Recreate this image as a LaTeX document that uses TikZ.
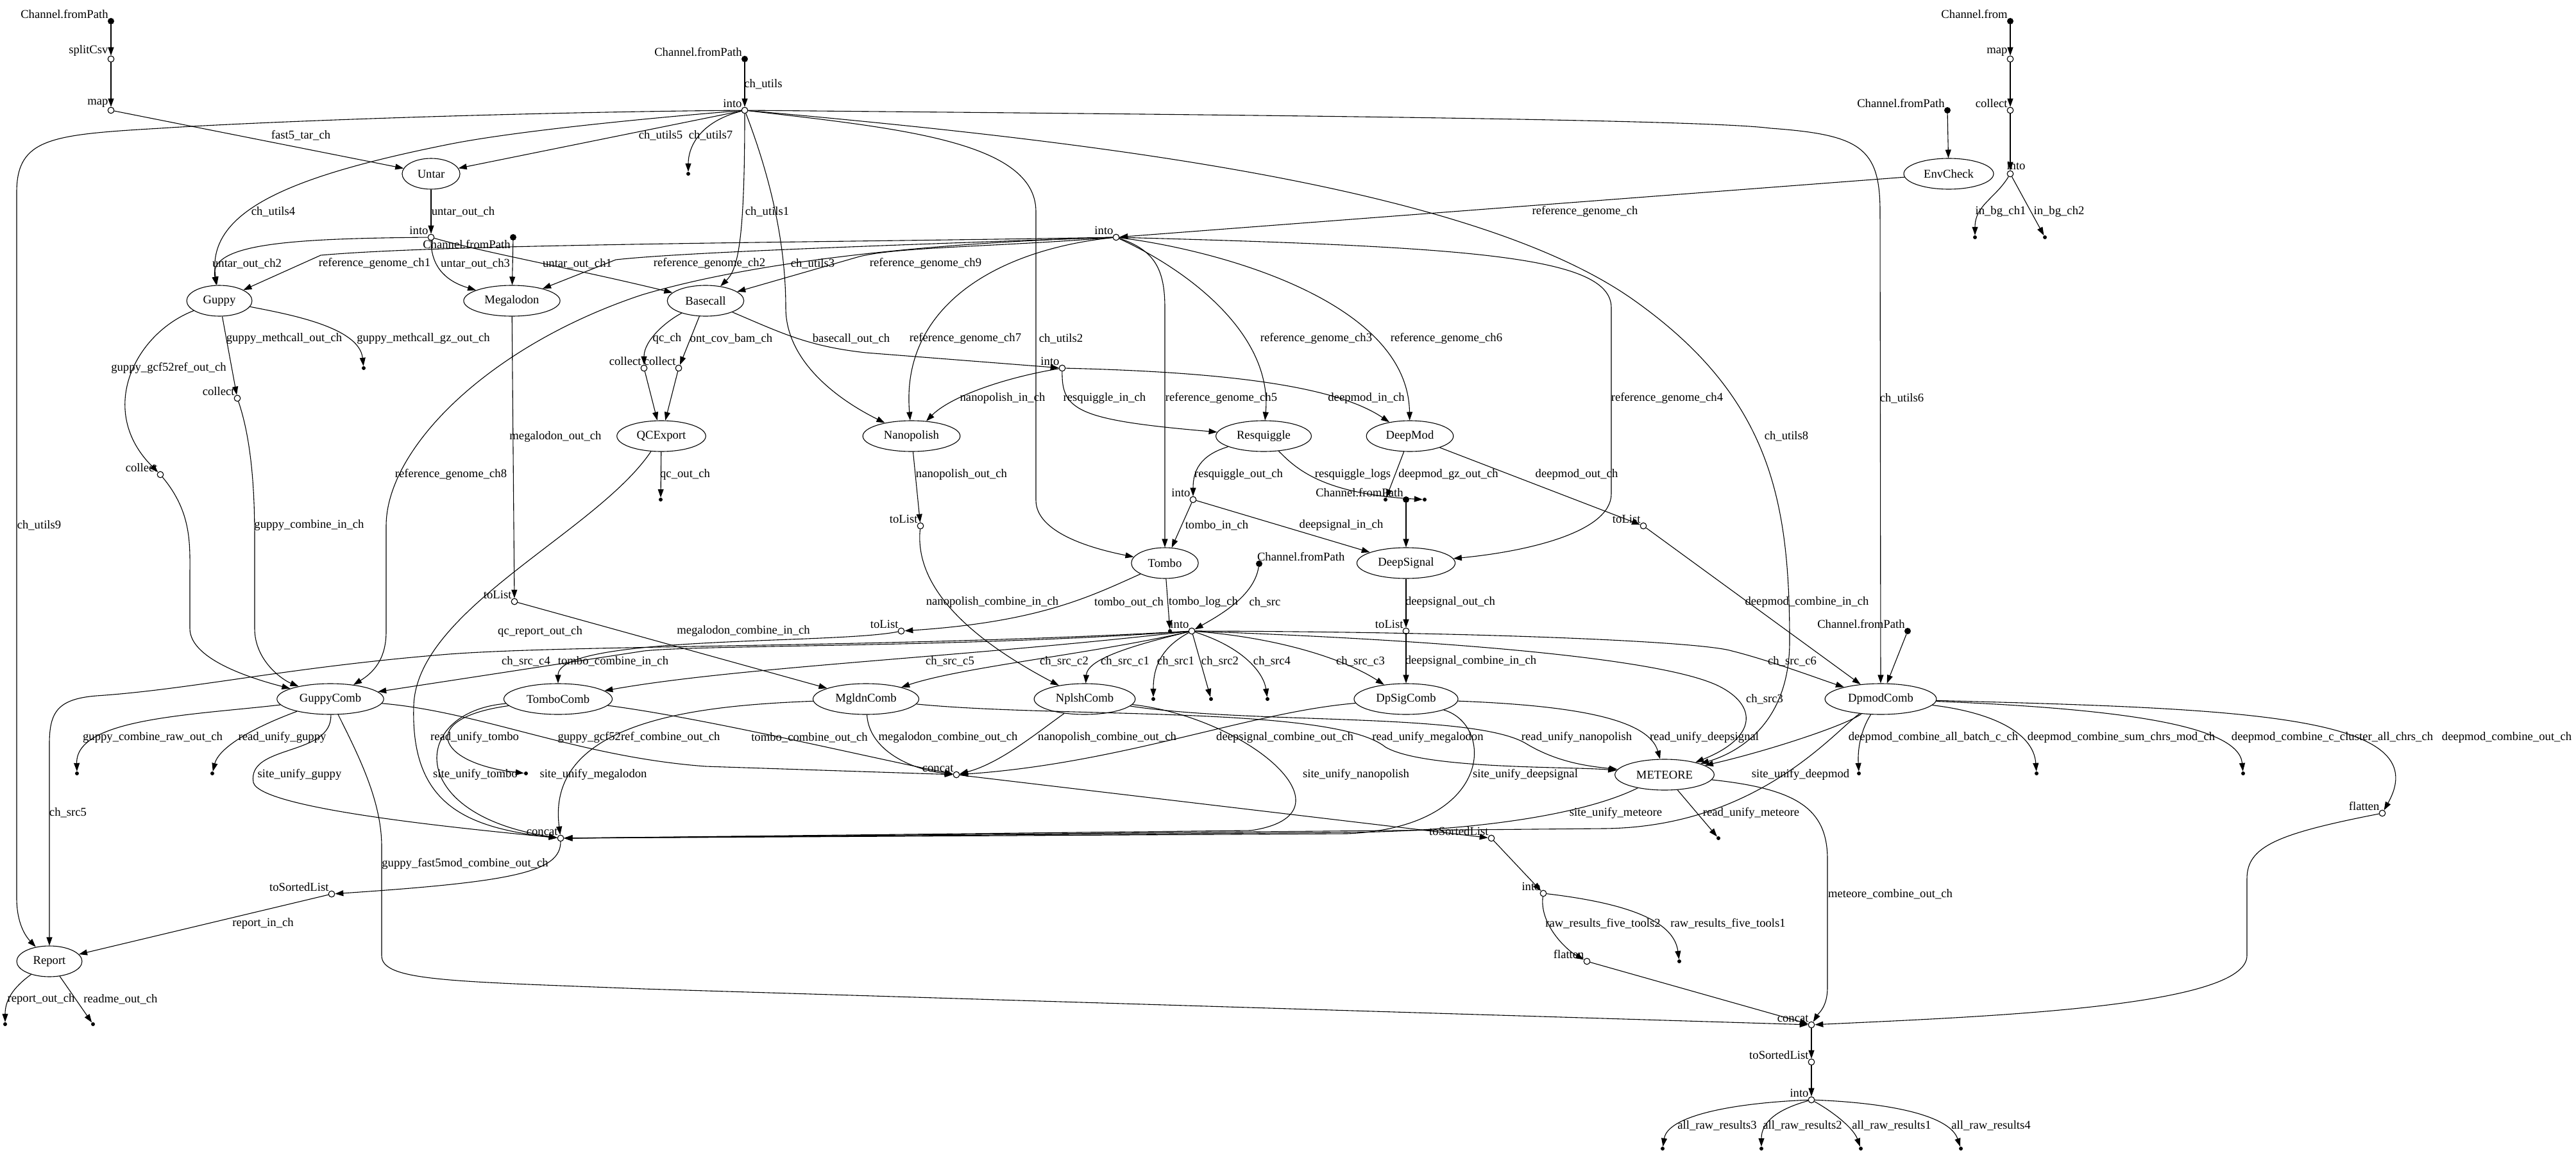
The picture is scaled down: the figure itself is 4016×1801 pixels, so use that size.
\documentclass[tikz,border=0pt]{standalone}
\usepackage{fontspec}
\setmainfont{Liberation Serif}
\usetikzlibrary{shapes.geometric, arrows.meta}
\tikzset{
  proc/.style   = {ellipse, draw, line width=1.1pt, minimum height=48pt,
                   inner xsep=10.6pt, inner ysep=2pt},
  oper/.style   = {circle, draw, line width=1.1pt, fill=white,
                   inner sep=0pt, minimum size=9.6pt},
  source/.style = {circle, fill, inner sep=0pt, minimum size=10pt},
  drain/.style  = {circle, fill, inner sep=0pt, minimum size=6pt},
  opname/.style = {inner sep=0.5pt},
  chan/.style   = {inner sep=0pt},
  flow/.style   = {-{Triangle[length=13pt, width=9pt]}, line width=1.1pt},
}

\begin{document}
\begin{tikzpicture}[x=1pt, y=-1pt, font=\fontsize{18.67}{22}\selectfont]
  \useasboundingbox (0,0) rectangle (4016,1801);

  \node[source, label={[opname]north west:Channel.fromPath}] (fp1) at (173,33) {};
  \node[source, label={[opname]north west:Channel.fromPath}] (fp3) at (1161,92) {};
  \node[source, label={[opname]south west:Channel.fromPath}] (fp2) at (800,370) {};
  \node[source, label={[opname]north west:Channel.fromPath}] (fp4) at (3036,172) {};
  \node[source, label={[opname]north west:Channel.from}] (cfrom) at (3134,33) {};
  \node[source, label={[opname]north west:Channel.fromPath}] (fp6) at (2192,779) {};
  \node[source, label={[opname, anchor=south west]north west:Channel.fromPath}] (fp5) at (1963,879) {};
  \node[source, label={[opname]north west:Channel.fromPath}] (fp7) at (2974,984) {};

  \node[oper, label={[opname]north west:splitCsv}] (splitcsv) at (173,92) {};
  \node[oper, label={[opname]north west:map}] (map1) at (173,172) {};
  \node[oper, label={[opname]north west:into}] (into1) at (1161,172) {};
  \node[oper, label={[opname]north west:into}] (into2) at (672,370) {};
  \node[oper, label={[opname]north west:into}] (into3) at (1740,370) {};
  \node[oper, label={[opname]north west:map}] (map2) at (3134,92) {};
  \node[oper, label={[opname]north west:collect}] (collbg) at (3134,172) {};
  \node[oper, label={[opname, anchor=south, xshift=9pt]north:into}] (intobg) at (3134,271) {};
  \node[oper, label={[opname]north west:collect}] (colqc) at (1004,574) {};
  \node[oper, label={[opname]north west:collect}] (colbam) at (1058,574) {};
  \node[oper, label={[opname]north west:into}] (into4) at (1656,574) {};
  \node[oper, label={[opname]north west:collect}] (colmeth) at (370,621) {};
  \node[oper, label={[opname]north west:collect}] (colgcf) at (250,740) {};
  \node[oper, label={[opname]north west:into}] (into6) at (1860,779) {};
  \node[oper, label={[opname]north west:toList}] (tolnp) at (1435,820) {};
  \node[oper, label={[opname]north west:toList}] (toldm) at (2562,820) {};
  \node[oper, label={[opname]north west:toList}] (tolmg) at (802,938) {};
  \node[oper, label={[opname]north west:toList}] (toltb) at (1405,984) {};
  \node[oper, label={[opname]north west:into}] (into7) at (1858,984) {};
  \node[oper, label={[opname]north west:toList}] (tolds) at (2192,984) {};
  \node[oper, label={[opname]north west:concat}] (concatm) at (1491,1208) {};
  \node[oper, label={[opname]north west:concat}] (concatr) at (874,1307) {};
  \node[oper, label={[opname]north west:toSortedList}] (tsl1) at (2325,1307) {};
  \node[oper, label={[opname]north west:into}] (into9) at (2406,1393) {};
  \node[oper, label={[opname]north west:flatten}] (flat1) at (2474,1499) {};
  \node[oper, label={[opname]north west:flatten}] (flat2) at (3714,1268) {};
  \node[oper, label={[opname]north west:toSortedList}] (tslr) at (517,1394) {};
  \node[oper, label={[opname]north west:concat}] (concatf) at (2824,1598) {};
  \node[oper, label={[opname]north west:toSortedList}] (tslf) at (2824,1656) {};
  \node[oper, label={[opname]north west:into}] (into10) at (2824,1715) {};

  \node[proc] (untar) at (672,271) {Untar};
  \node[proc] (guppy) at (342,469) {Guppy};
  \node[proc] (megalodon) at (798,469) {Megalodon};
  \node[proc] (basecall) at (1100,469) {Basecall};
  \node[proc] (envcheck) at (3038,271) {EnvCheck};
  \node[proc] (qcexport) at (1031,680) {QCExport};
  \node[proc] (nanopolish) at (1421,680) {Nanopolish};
  \node[proc] (resquiggle) at (1970,680) {Resquiggle};
  \node[proc] (deepmod) at (2198,680) {DeepMod};
  \node[proc] (tombo) at (1816,878) {Tombo};
  \node[proc] (deepsignal) at (2192,878) {DeepSignal};
  \node[proc] (guppycomb) at (515,1090) {GuppyComb};
  \node[proc] (tombocomb) at (870,1090) {TomboComb};
  \node[proc] (mgldncomb) at (1350,1090) {MgldnComb};
  \node[proc] (nplshcomb) at (1691,1090) {NplshComb};
  \node[proc] (dpsigcomb) at (2192,1090) {DpSigComb};
  \node[proc] (dpmodcomb) at (2932,1090) {DpmodComb};
  \node[proc] (meteore) at (2595,1208) {METEORE};
  \node[proc] (report) at (77,1499) {Report};

  \node[drain] (kutils7) at (1073,271) {};
  \node[drain] (kbg1) at (3079,370) {};
  \node[drain] (kbg2) at (3188,370) {};
  \node[drain] (kgz) at (567,574) {};
  \node[drain] (kqc) at (1030,779) {};
  \node[drain] (kdmgz) at (2160,779) {};
  \node[drain] (krl) at (2221,779) {};
  \node[drain] (ktblog) at (1824,984) {};
  \node[drain] (ksrc1) at (1798,1090) {};
  \node[drain] (ksrc2) at (1888,1090) {};
  \node[drain] (ksrc4) at (1976,1090) {};
  \node[drain] (kgcr) at (120,1206) {};
  \node[drain] (krug) at (331,1206) {};
  \node[drain] (krut) at (820,1206) {};
  \node[drain] (kdab) at (2898,1206) {};
  \node[drain] (kdsum) at (3175,1206) {};
  \node[drain] (kdclu) at (3497,1206) {};
  \node[drain] (krum) at (2679,1307) {};
  \node[drain] (krr1) at (2618,1499) {};
  \node[drain] (krep) at (8,1597) {};
  \node[drain] (krme) at (145,1597) {};
  \node[drain] (kar3) at (2592,1791) {};
  \node[drain] (kar2) at (2746,1791) {};
  \node[drain] (kar1) at (2901,1791) {};
  \node[drain] (kar4) at (3057,1791) {};

  \draw[flow] (fp1) -- (splitcsv);
  \draw[flow] (splitcsv) -- (map1);
  \draw[flow] (map1) -- (untar) node[chan] at (469,211) {fast5\_tar\_ch};
  \draw[flow] (fp3) -- (into1) node[chan] at (1190,131) {ch\_utils};
  \draw[flow] (into1) -- (untar) node[chan] at (1030,211) {ch\_utils5};
  \draw[flow] (into1) .. controls (1090,190) and (1073,230) .. (kutils7) node[chan] at (1108,211) {ch\_utils7};
  \draw[flow] (into1) .. controls (1000,185) and (800,205) .. (700,225) .. controls (450,275) and (320,330) .. (guppy) node[chan] at (426,330) {ch\_utils4};
  \draw[flow] (into1) .. controls (1161,380) and (1150,420) .. (basecall) node[chan] at (1196,330) {ch\_utils1};
  \draw[flow] (into1) .. controls (1210,300) and (1225,400) .. (1225,480) .. controls (1225,560) and (1300,620) .. (nanopolish) node[chan] at (1267,411) {ch\_utils3};
  \draw[flow] (into1) .. controls (1400,200) and (1615,220) .. (1615,330) -- (1615,780) .. controls (1615,830) and (1700,855) .. (tombo) node[chan] at (1654,528) {ch\_utils2};
  \draw[flow] (into1) .. controls (800,175) and (400,190) .. (250,200) .. controls (80,210) and (26,215) .. (26,300) -- (26,1400) .. controls (26,1440) and (40,1460) .. (report) node[chan] at (61,819) {ch\_utils9};
  \draw[flow] (into1) .. controls (1800,178) and (2650,185) .. (2760,200) .. controls (2900,210) and (2931,230) .. (2931,330) -- (dpmodcomb) node[chan] at (2965,621) {ch\_utils6};
  \draw[flow] (into1) .. controls (1700,220) and (2300,290) .. (2550,470) .. controls (2760,620) and (2790,780) .. (2790,1000) .. controls (2790,1120) and (2720,1170) .. (meteore) node[chan] at (2785,680) {ch\_utils8};

  \draw[flow] (untar) -- (into2) node[chan] at (722,330) {untar\_out\_ch};
  \draw[flow] (into2) .. controls (450,372) and (325,380) .. (guppy) node[chan] at (385,411) {untar\_out\_ch2};
  \draw[flow] (into2) .. controls (672,420) and (700,440) .. (megalodon) node[chan] at (741,411) {untar\_out\_ch3};
  \draw[flow] (into2) .. controls (760,395) and (900,420) .. (basecall) node[chan] at (900,411) {untar\_out\_ch1};
  \draw[flow] (fp2) -- (megalodon);

  \draw[flow] (fp4) -- (envcheck);
  \draw[flow] (envcheck) -- (into3) node[chan] at (2471,330) {reference\_genome\_ch};
  \draw[flow] (into3) .. controls (1300,378) and (700,380) .. (500,398) -- (guppy) node[chan] at (584,411) {reference\_genome\_ch1};
  \draw[flow] (into3) .. controls (1300,385) and (1050,395) .. (960,405) -- (megalodon) node[chan] at (1106,411) {reference\_genome\_ch2};
  \draw[flow] (into3) .. controls (1850,420) and (1984,520) .. (resquiggle) node[chan] at (2052,528) {reference\_genome\_ch3};
  \draw[flow] (into3) .. controls (2300,385) and (2512,400) .. (2512,480) -- (2512,770) .. controls (2512,830) and (2380,860) .. (deepsignal) node[chan] at (2599,621) {reference\_genome\_ch4};
  \draw[flow] (into3) .. controls (1800,390) and (1816,420) .. (1816,480) -- (tombo) node[chan] at (1904,621) {reference\_genome\_ch5};
  \draw[flow] (into3) .. controls (1900,390) and (2195,470) .. (deepmod) node[chan] at (2255,528) {reference\_genome\_ch6};
  \draw[flow] (into3) .. controls (1550,390) and (1404,480) .. (nanopolish) node[chan] at (1505,528) {reference\_genome\_ch7};
  \draw[flow] (into3) .. controls (1400,380) and (1150,415) .. (1000,460) .. controls (760,540) and (602,700) .. (602,820) -- (602,985) .. controls (602,1030) and (580,1050) .. (guppycomb) node[chan] at (703,740) {reference\_genome\_ch8};
  \draw[flow] (into3) .. controls (1550,385) and (1400,385) .. (1340,400) -- (basecall) node[chan] at (1443,411) {reference\_genome\_ch9};

  \draw[flow] (cfrom) -- (map2);
  \draw[flow] (map2) -- (collbg);
  \draw[flow] (collbg) -- (intobg);
  \draw[flow] (intobg) .. controls (3110,310) and (3079,320) .. (kbg1) node[chan] at (3119,330) {in\_bg\_ch1};
  \draw[flow] (intobg) -- (kbg2) node[chan] at (3210,330) {in\_bg\_ch2};

  \draw[flow] (basecall) .. controls (1040,500) and (1004,530) .. (colqc) node[chan] at (1040,528) {qc\_ch};
  \draw[flow] (basecall) -- (colbam) node[chan] at (1140,528) {ont\_cov\_bam\_ch};
  \draw[flow] (colqc) -- (qcexport);
  \draw[flow] (colbam) -- (qcexport);
  \draw[flow] (basecall) .. controls (1220,520) and (1260,540) .. (1350,550) -- (into4) node[chan] at (1327,528) {basecall\_out\_ch};
  \draw[flow] (into4) .. controls (1560,590) and (1480,620) .. (nanopolish) node[chan] at (1563,621) {nanopolish\_in\_ch};
  \draw[flow] (into4) .. controls (1655,640) and (1680,655) .. (resquiggle) node[chan] at (1722,621) {resquiggle\_in\_ch};
  \draw[flow] (into4) .. controls (1900,580) and (2080,600) .. (deepmod) node[chan] at (2130,621) {deepmod\_in\_ch};
  \draw[flow] (qcexport) -- (kqc) node[chan] at (1068,740) {qc\_out\_ch};
  \draw[flow] (qcexport) .. controls (930,830) and (650,950) .. (645,1100) .. controls (640,1250) and (720,1290) .. (concatr) node[chan] at (842,985) {qc\_report\_out\_ch};

  \draw[flow] (megalodon) -- (tolmg) node[chan] at (866,681) {megalodon\_out\_ch};
  \draw[flow] (tolmg) -- (mgldncomb) node[chan] at (1159,984) {megalodon\_combine\_in\_ch};
  \draw[flow] (guppy) -- (colmeth) node[chan] at (443,528) {guppy\_methcall\_out\_ch};
  \draw[flow] (guppy) .. controls (450,490) and (560,510) .. (kgz) node[chan] at (660,528) {guppy\_methcall\_gz\_out\_ch};
  \draw[flow] (guppy) .. controls (210,520) and (150,640) .. (colgcf) node[chan] at (263,574) {guppy\_gcf52ref\_out\_ch};
  \draw[flow] (colgcf) .. controls (300,800) and (296,850) .. (296,900) -- (296,980) .. controls (296,1030) and (400,1060) .. (guppycomb);
  \draw[flow] (colmeth) .. controls (397,700) and (397,800) .. (397,850) -- (397,980) .. controls (397,1030) and (440,1060) .. (guppycomb) node[chan] at (482,819) {guppy\_combine\_in\_ch};

  \draw[flow] (nanopolish) -- (tolnp) node[chan] at (1499,740) {nanopolish\_out\_ch};
  \draw[flow] (tolnp) .. controls (1425,920) and (1520,1000) .. (nplshcomb) node[chan] at (1547,939) {nanopolish\_combine\_in\_ch};
  \draw[flow] (resquiggle) .. controls (1870,710) and (1860,735) .. (into6) node[chan] at (1931,740) {resquiggle\_out\_ch};
  \draw[flow] (resquiggle) .. controls (2020,730) and (2060,770) .. (krl) node[chan] at (2109,740) {resquiggle\_logs};
  \draw[flow] (into6) -- (tombo) node[chan] at (1897,819) {tombo\_in\_ch};
  \draw[flow] (into6) -- (deepsignal) node[chan] at (2091,819) {deepsignal\_in\_ch};
  \draw[flow] (deepmod) -- (kdmgz) node[chan] at (2258,740) {deepmod\_gz\_out\_ch};
  \draw[flow] (deepmod) -- (toldm) node[chan] at (2458,740) {deepmod\_out\_ch};
  \draw[flow] (toldm) -- (dpmodcomb) node[chan] at (2817,939) {deepmod\_combine\_in\_ch};
  \draw[flow] (fp6) -- (deepsignal);
  \draw[flow] (deepsignal) -- (tolds) node[chan] at (2261,939) {deepsignal\_out\_ch};
  \draw[flow] (tolds) -- (dpsigcomb) node[chan] at (2293,1031) {deepsignal\_combine\_in\_ch};
  \draw[flow] (tombo) .. controls (1700,930) and (1620,970) .. (toltb) node[chan] at (1760,939) {tombo\_out\_ch};
  \draw[flow] (toltb) .. controls (1300,1005) and (870,990) .. (tombocomb) node[chan] at (956,1031) {tombo\_combine\_in\_ch};
  \draw[flow] (tombo) -- (ktblog) node[chan] at (1876,939) {tombo\_log\_ch};
  \draw[flow] (fp7) -- (dpmodcomb);

  \draw[flow] (fp5) .. controls (1955,930) and (1900,960) .. (into7) node[chan] at (1972,939) {ch\_src};
  \draw[flow] (into7) .. controls (1500,1010) and (1100,1005) .. (1004,1015) -- (guppycomb) node[chan] at (820,1031) {ch\_src\_c4};
  \draw[flow] (into7) .. controls (1400,1010) and (900,1005) .. (700,1020) .. controls (450,1040) and (300,1075) .. (150,1085) .. controls (90,1090) and (77,1110) .. (77,1160) -- (report) node[chan] at (106,1267) {ch\_src5};
  \draw[flow] (into7) .. controls (1500,1025) and (1150,1040) .. (tombocomb) node[chan] at (1481,1031) {ch\_src\_c5};
  \draw[flow] (into7) .. controls (1700,1020) and (1500,1040) .. (mgldncomb) node[chan] at (1659,1031) {ch\_src\_c2};
  \draw[flow] (into7) .. controls (1750,1010) and (1695,1030) .. (nplshcomb) node[chan] at (1754,1031) {ch\_src\_c1};
  \draw[flow] (into7) .. controls (1810,1010) and (1798,1040) .. (ksrc1) node[chan] at (1833,1031) {ch\_src1};
  \draw[flow] (into7) -- (ksrc2) node[chan] at (1902,1031) {ch\_src2};
  \draw[flow] (into7) .. controls (1940,1010) and (1970,1050) .. (ksrc4) node[chan] at (1983,1031) {ch\_src4};
  \draw[flow] (into7) .. controls (2000,995) and (2100,1030) .. (dpsigcomb) node[chan] at (2121,1031) {ch\_src\_c3};
  \draw[flow] (into7) .. controls (2300,985) and (2650,1000) .. (2700,1015) .. controls (2760,1030) and (2840,1060) .. (dpmodcomb) node[chan] at (2794,1031) {ch\_src\_c6};
  \draw[flow] (into7) .. controls (2300,1000) and (2600,1030) .. (2680,1070) .. controls (2740,1100) and (2740,1150) .. (meteore) node[chan] at (2751,1090) {ch\_src3};

  \draw[flow] (guppycomb) .. controls (300,1115) and (118,1120) .. (kgcr) node[chan] at (238,1150) {guppy\_combine\_raw\_out\_ch};
  \draw[flow] (guppycomb) .. controls (380,1140) and (340,1170) .. (krug) node[chan] at (440,1150) {read\_unify\_guppy};
  \draw[flow] (guppycomb) .. controls (518,1180) and (385,1160) .. (395,1220) .. controls (405,1260) and (700,1290) .. (concatr) node[chan] at (467,1208) {site\_unify\_guppy};
  \draw[flow] (guppycomb) .. controls (560,1180) and (595,1250) .. (595,1320) -- (595,1490) .. controls (595,1530) and (700,1530) .. (1004,1542) -- (concatf) node[chan] at (725,1347) {guppy\_fast5mod\_combine\_out\_ch};
  \draw[flow] (guppycomb) .. controls (750,1110) and (900,1180) .. (1100,1195) -- (concatm) node[chan] at (996,1150) {guppy\_gcf52ref\_combine\_out\_ch};
  \draw[flow] (tombocomb) .. controls (650,1120) and (680,1190) .. (krut) node[chan] at (740,1150) {read\_unify\_tombo};
  \draw[flow] (tombocomb) .. controls (640,1110) and (630,1270) .. (concatr) node[chan] at (741,1208) {site\_unify\_tombo};
  \draw[flow] (tombocomb) .. controls (1100,1120) and (1350,1180) .. (concatm) node[chan] at (1262,1150) {tombo\_combine\_out\_ch};
  \draw[flow] (mgldncomb) .. controls (1355,1170) and (1420,1200) .. (concatm) node[chan] at (1478,1150) {megalodon\_combine\_out\_ch};
  \draw[flow] (mgldncomb) .. controls (1650,1120) and (2080,1100) .. (2160,1165) .. controls (2220,1200) and (2450,1195) .. (meteore) node[chan] at (2226,1150) {read\_unify\_megalodon};
  \draw[flow] (mgldncomb) .. controls (1100,1100) and (850,1120) .. (concatr) node[chan] at (925,1208) {site\_unify\_megalodon};
  \draw[flow] (nplshcomb) .. controls (1620,1140) and (1560,1190) .. (concatm) node[chan] at (1726,1150) {nanopolish\_combine\_out\_ch};
  \draw[flow] (nplshcomb) .. controls (1950,1130) and (2300,1110) .. (2380,1160) .. controls (2430,1190) and (2480,1195) .. (meteore) node[chan] at (2458,1150) {read\_unify\_nanopolish};
  \draw[flow] (nplshcomb) .. controls (1950,1120) and (2120,1270) .. (1950,1295) -- (concatr) node[chan] at (2114,1208) {site\_unify\_nanopolish};
  \draw[flow] (dpsigcomb) .. controls (1950,1110) and (1750,1190) .. (concatm) node[chan] at (2003,1150) {deepsignal\_combine\_out\_ch};
  \draw[flow] (dpsigcomb) .. controls (2450,1100) and (2570,1120) .. (meteore) node[chan] at (2657,1150) {read\_unify\_deepsignal};
  \draw[flow] (dpsigcomb) .. controls (2330,1130) and (2330,1290) .. (2100,1300) -- (concatr) node[chan] at (2378,1208) {site\_unify\_deepsignal};
  \draw[flow] (dpmodcomb) .. controls (2880,1130) and (2760,1170) .. (meteore);
  \draw[flow] (dpmodcomb) .. controls (2860,1140) and (2740,1290) .. (2500,1292) -- (concatr) node[chan] at (2807,1208) {site\_unify\_deepmod};
  \draw[flow] (dpmodcomb) .. controls (2900,1140) and (2896,1170) .. (kdab) node[chan] at (3014,1150) {deepmod\_combine\_all\_batch\_c\_ch};
  \draw[flow] (dpmodcomb) .. controls (3100,1110) and (3170,1140) .. (kdsum) node[chan] at (3307,1150) {deepmod\_combine\_sum\_chrs\_mod\_ch};
  \draw[flow] (dpmodcomb) .. controls (3300,1105) and (3490,1130) .. (kdclu) node[chan] at (3636,1150) {deepmod\_combine\_c\_cluster\_all\_chrs\_ch};
  \draw[flow] (dpmodcomb) .. controls (3500,1105) and (3800,1115) .. (flat2) node[chan] at (3908,1150) {deepmod\_combine\_out\_ch};

  \draw[flow] (meteore) .. controls (2470,1270) and (2300,1296) .. (2100,1298) -- (concatr) node[chan] at (2519,1268) {site\_unify\_meteore};
  \draw[flow] (meteore) -- (krum) node[chan] at (2730,1268) {read\_unify\_meteore};
  \draw[flow] (meteore) .. controls (2800,1230) and (2849,1260) .. (2849,1340) -- (2849,1540) .. controls (2849,1570) and (2835,1580) .. (concatf) node[chan] at (2947,1394) {meteore\_combine\_out\_ch};

  \draw[flow] (concatm) -- (tsl1);
  \draw[flow] (tsl1) -- (into9);
  \draw[flow] (into9) .. controls (2400,1440) and (2440,1480) .. (flat1) node[chan] at (2499,1440) {raw\_results\_five\_tools2};
  \draw[flow] (into9) .. controls (2550,1410) and (2610,1440) .. (krr1) node[chan] at (2694,1440) {raw\_results\_five\_tools1};
  \draw[flow] (flat1) -- (concatf);
  \draw[flow] (flat2) .. controls (3550,1300) and (3503,1320) .. (3503,1370) -- (3503,1490) .. controls (3503,1570) and (3100,1585) .. (concatf);
  \draw[flow] (concatf) -- (tslf);
  \draw[flow] (tslf) -- (into10);
  \draw[flow] (into10) .. controls (2700,1720) and (2600,1740) .. (kar3) node[chan] at (2677,1755) {all\_raw\_results3};
  \draw[flow] (into10) .. controls (2770,1730) and (2746,1750) .. (kar2) node[chan] at (2810,1755) {all\_raw\_results2};
  \draw[flow] (into10) .. controls (2860,1735) and (2890,1760) .. (kar1) node[chan] at (2949,1755) {all\_raw\_results1};
  \draw[flow] (into10) .. controls (2950,1720) and (3040,1740) .. (kar4) node[chan] at (3104,1755) {all\_raw\_results4};

  \draw[flow] (concatr) .. controls (874,1360) and (800,1375) .. (tslr);
  \draw[flow] (tslr) -- (report) node[chan] at (410,1440) {report\_in\_ch};
  \draw[flow] (report) .. controls (20,1540) and (8,1560) .. (krep) node[chan] at (64,1558) {report\_out\_ch};
  \draw[flow] (report) -- (krme) node[chan] at (188,1558) {readme\_out\_ch};
\end{tikzpicture}
\end{document}
